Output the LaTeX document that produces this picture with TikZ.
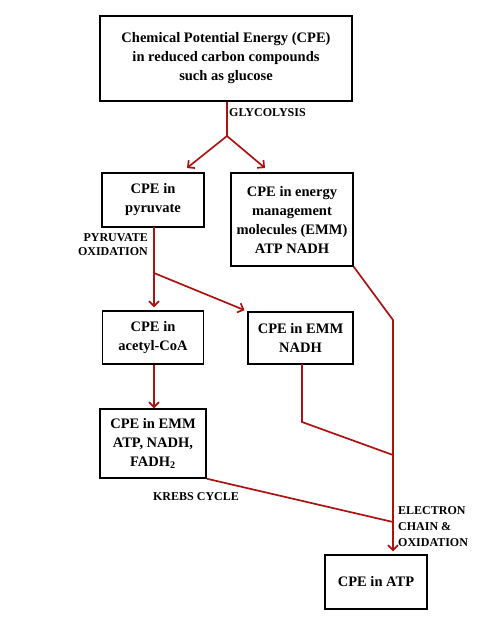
\documentclass[tikz,border=0pt]{standalone}
\usepackage{fontspec}
\setmainfont{Liberation Serif}
\usetikzlibrary{arrows.meta}
\definecolor{arrowred}{RGB}{172,18,18}
\begin{document}
\begin{tikzpicture}[x=1pt,y=-1pt,
  box/.style={draw=black,line width=1.4pt,align=center,inner sep=0pt,
    font=\bfseries\fontsize{14.5}{19}\selectfont},
  lbl/.style={font=\bfseries\fontsize{12}{14}\selectfont,inner sep=0pt},
  conn/.style={draw=arrowred,line width=1.7pt},
  arr/.style={conn,-{Straight Barb[length=5pt,width=10pt]}}]
\useasboundingbox (0,0) rectangle (489,640);
\node[box,minimum width=252pt,minimum height=85pt] (top) at (226,58.5)
  {Chemical Potential Energy (CPE)\\in reduced carbon compounds\\such as glucose};
\node[box,minimum width=102pt,minimum height=54pt] (pyr) at (153,200) {CPE in\\pyruvate};
\node[box,minimum width=122pt,minimum height=93pt] (emm) at (292,219.5)
  {CPE in energy\\management\\molecules (EMM)\\ATP NADH};
\node[box,minimum width=101pt,minimum height=53pt] (acet) at (153,337.5) {CPE in\\acetyl-CoA};
\node[box,minimum width=105pt,minimum height=52pt] (nadh) at (300.5,338) {CPE in EMM\\NADH};
\node[box,minimum width=106pt,minimum height=69pt] (krebs) at (153,443.5)
  {CPE in EMM\\ATP, NADH,\\FADH\textsubscript{2}};
\node[box,minimum width=102pt,minimum height=54pt] (atp) at (376,582) {CPE in ATP};

\node[lbl,anchor=west] (glyc) at (229,113) {GLYCOLYSIS};
\node[lbl,anchor=east,align=right] (pyox) at (148,245) {PYRUVATE\\OXIDATION};
\node[lbl] (kreb) at (196,497) {KREBS CYCLE};
\node[lbl,anchor=west,align=left,font=\bfseries\fontsize{12}{16}\selectfont] (etc) at (398,527)
  {ELECTRON\\CHAIN \&\\OXIDATION};

\coordinate (g) at (227,136);
\coordinate (ga) at (187,168);
\coordinate (gb) at (265,168);
\coordinate (p0) at (154,227);
\coordinate (p1) at (154,273);
\coordinate (m1) at (393,320);
\coordinate (n0) at (302,364);
\coordinate (n1) at (302,422);
\coordinate (j1) at (393,455);
\coordinate (j2) at (393,522);

\draw[conn] (top.south -| g) -- (g);
\draw[arr] (g) -- (ga);
\draw[arr] (g) -- (gb);
\draw[conn] (p0) -- (p1);
\draw[arr,shorten >=3pt] (p1) -- (acet.north -| p1);
\draw[arr,shorten >=3pt] (p1) -- (nadh.north west);
\draw[arr] (acet.south -| p1) -- (krebs.north -| p1);
\draw[conn] (emm.south east) -- (m1) -- (m1 |- j1);
\draw[conn] (n0) -- (n1) -- (j1);
\draw[conn] (krebs.south east) -- (j2);
\draw[arr,shorten >=3pt] (m1) -- (m1 |- atp.north);
\end{tikzpicture}
\end{document}
